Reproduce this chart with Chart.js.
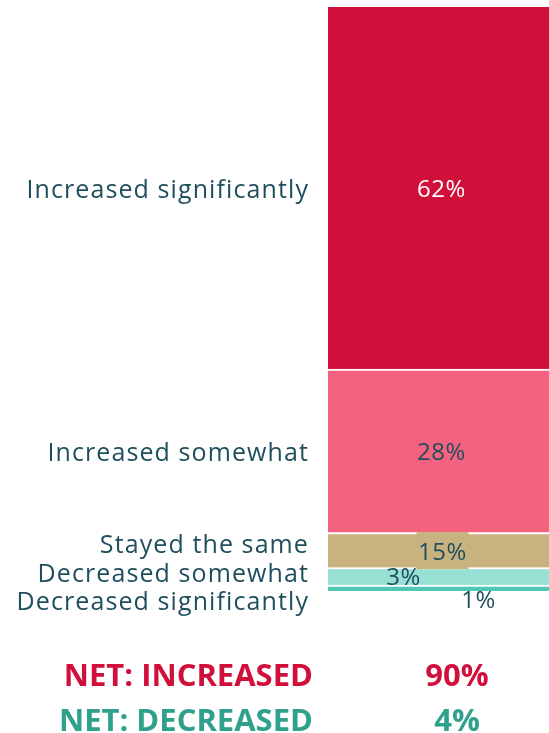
<!DOCTYPE html>
<html lang="en">
<head>
  <meta charset="UTF-8">
  <title>Chart</title>
  <script src="https://cdn.jsdelivr.net/npm/chart.js"></script>
  <style>
    body { margin: 0; background: #fff; }
  </style>
</head>
<body>
  <canvas id="myChart" width="549" height="733"></canvas>

  <script>
    // answer options, top segment first
    const categories = ['Increased significantly', 'Increased somewhat', 'Stayed the same', 'Decreased somewhat', 'Decreased significantly'];
    // segment sizes as drawn
    const values = [62, 28, 6, 3, 1];
    // labels printed on the segments
    const valueLabels = ['62%', '28%', '15%', '3%', '1%'];
    const colors = ['#D0103A', '#F4627F', '#C8B27F', '#96E0D4', '#4DC8B4'];

    // summary rows under the bar
    const netLabels = ['NET: INCREASED', 'NET: DECREASED'];
    const netValues = ['90%', '4%'];
    const netColors = ['#D0103A', '#2FA08C'];

    const textColor = '#1F4E5E';

    // stack bottom-up so the first category sits on top
    const datasets = categories.map((c, i) => ({
      label: c,
      data: [values[i]],
      backgroundColor: colors[i],
      borderColor: '#fff',
      borderWidth: i === 0 ? 0 : { top: 2, bottom: 0, left: 0, right: 0 },
      borderSkipped: false,
      categoryPercentage: 1,
      barPercentage: 1
    })).reverse();

    const labelPlugin = {
      id: 'labels',
      afterDraw(chart) {
        const ctx = chart.ctx;
        const n = chart.data.datasets.length;
        const items = [];
        for (let d = 0; d < n; d++) {
          const el = chart.getDatasetMeta(d).data[0];
          items[n - 1 - d] = { x: el.x, y: (el.y + el.base) / 2 };
        }

        // category names on the left, pushed apart so they don't collide
        const ys = items.map(it => it.y);
        const minGap = 28.3;
        for (let k = 0; k < 300; k++) {
          for (let i = 1; i < ys.length; i++) {
            const gap = ys[i] - ys[i - 1];
            if (gap < minGap) {
              const push = (minGap - gap) / 2;
              ys[i - 1] -= push;
              ys[i] += push;
            }
          }
        }
        ctx.save();
        ctx.font = '25px "Open Sans"';
        ctx.letterSpacing = '1.1px';
        ctx.fillStyle = textColor;
        ctx.textAlign = 'right';
        ctx.textBaseline = 'alphabetic';
        categories.forEach((c, i) => ctx.fillText(c, 309, ys[i] + 1.5 + 8.5));

        // percent labels on the bar
        ctx.letterSpacing = '0.5px';
        ctx.font = '24px "Open Sans"';
        ctx.textAlign = 'center';
        const shift = [[3, 0], [3, 1], [4, 1], [-35, 0.5], [40, 11]];
        valueLabels.forEach((t, i) => {
          const x = items[i].x + shift[i][0];
          const y = items[i].y + shift[i][1];
          if (i === 2) {
            ctx.fillStyle = colors[2];
            ctx.fillRect(x - 26, y - 19, 52, 37);
          }
          ctx.fillStyle = i === 0 ? '#fff' : textColor;
          ctx.fillText(t, x, y + 8.5);
        });

        // net rows
        ctx.letterSpacing = '0px';
        ctx.font = 'bold 31px "Open Sans"';
        netLabels.forEach((t, i) => {
          const base = 686 + i * 45;
          ctx.fillStyle = netColors[i];
          ctx.textAlign = 'right';
          ctx.fillText(t, 313, base);
          ctx.textAlign = 'center';
          ctx.fillText(netValues[i], 457, base);
        });
        ctx.restore();
      }
    };

    const ctx = document.getElementById('myChart').getContext('2d');
    const myChart = new Chart(ctx, {
      type: 'bar',
      data: { labels: [''], datasets: datasets },
      options: {
        responsive: false,
        animation: false,
        layout: { padding: { left: 328, top: 7, right: 0, bottom: 142 } },
        plugins: { legend: { display: false }, tooltip: { enabled: false } },
        scales: {
          x: { stacked: true, display: false },
          y: { stacked: true, display: false, min: 0, max: 100 }
        }
      },
      plugins: [labelPlugin]
    });
  </script>
</body>
</html>
